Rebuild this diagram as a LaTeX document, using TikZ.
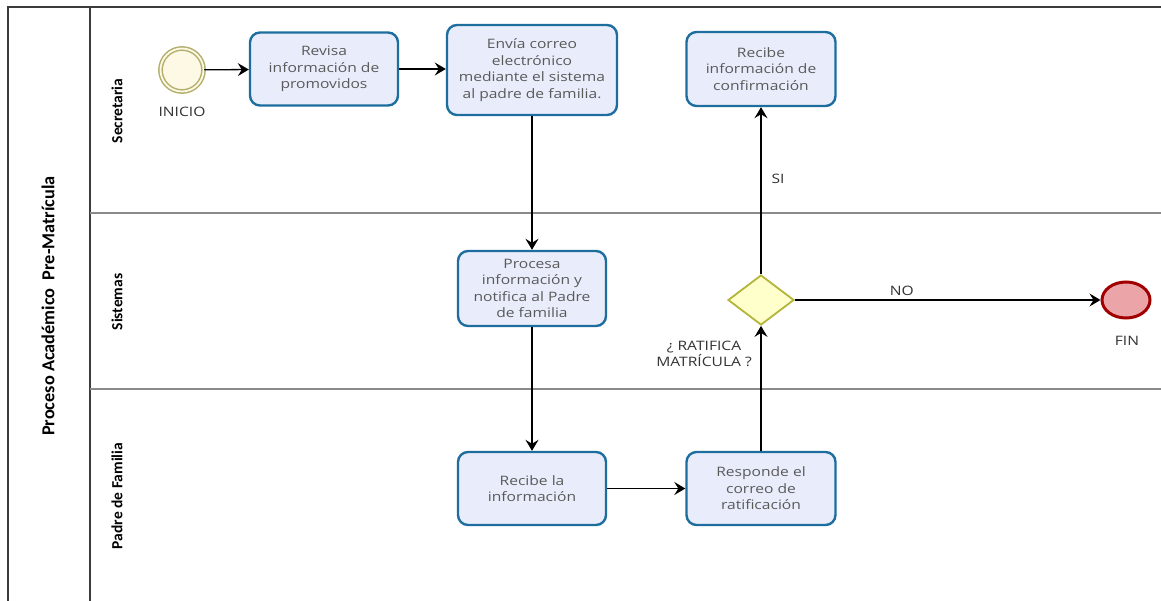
\documentclass[tikz,border=0pt]{standalone}
\usepackage{fontspec}
\usetikzlibrary{shapes.geometric,arrows.meta}
\newfontfamily\taskfont[FakeStretch=1.2]{Open Sans}
\newfontfamily\lanefont{Carlito}
\definecolor{taskfill}{HTML}{E9EDFB}
\definecolor{taskdraw}{HTML}{1D6E9E}
\definecolor{tasktext}{HTML}{5A5A5A}
\definecolor{labtext}{HTML}{333333}
\definecolor{startdraw}{HTML}{B3AF6E}
\definecolor{startfill}{HTML}{FEF9E4}
\definecolor{gwfill}{HTML}{FFFFCC}
\definecolor{gwdraw}{HTML}{B4B43A}
\definecolor{endfill}{HTML}{EBA5A9}
\definecolor{enddraw}{HTML}{A00000}
\definecolor{pooldraw}{HTML}{3C3C3C}
\definecolor{lanedraw}{HTML}{8A8A8A}
\tikzset{
  task/.style={draw=taskdraw, fill=taskfill, line width=2.4pt, rounded corners=10pt,
    align=center, text=tasktext, font=\taskfont\fontsize{13}{16.5}\selectfont, inner sep=2pt},
  lbl/.style={text=labtext, font=\taskfont\fontsize{13}{16}\selectfont, inner sep=0pt, align=center},
  lanelbl/.style={rotate=90, font=\lanefont\bfseries\fontsize{15.5}{17}\selectfont, inner sep=0pt},
  flow/.style={line width=1.3pt, -{Stealth[length=11pt,width=13pt,inset=4pt]}},
}
\begin{document}
\begin{tikzpicture}[x=1pt,y=-1pt]
\useasboundingbox (0,0) rectangle (1161,601);
\fill[white] (0,0) rectangle (1161,601);
% pool and lanes
\draw[pooldraw, line width=1.6pt] (8,601) -- (8,7) -- (1161,7);
\draw[pooldraw, line width=1.3pt] (90,7) -- (90,601);
\draw[lanedraw, line width=1.5pt] (90,213) -- (1161,213);
\draw[lanedraw, line width=1.5pt] (90,389) -- (1161,389);
\node[rotate=90, font=\lanefont\bfseries\fontsize{18.3}{20}\selectfont, inner sep=0pt] (pool) at (48,306) {Proceso Académico\ \ Pre-Matrícula};
\node[lanelbl] (l1) at (117,111) {Secretaria};
\node[lanelbl] (l2) at (117,302) {Sistemas};
\node[lanelbl] (l3) at (117,496) {Padre de Familia};
% start
\node[circle, draw=startdraw, line width=1.5pt, double=startfill, double distance=1.8pt, fill=startfill, minimum size=43pt, inner sep=0pt] (start) at (182,70) {};
\node[lbl] (startlbl) at (182,112) {INICIO};
% tasks
\node[task, minimum width=148pt, minimum height=73pt] (revisa) at (324,69) {Revisa\\información de\\promovidos};
\node[task, minimum width=170pt, minimum height=90pt] (envia) at (532,70) {Envía correo\\electrónico\\mediante el sistema\\al padre de familia.};
\node[task, minimum width=149pt, minimum height=74pt] (recconf) at (761,69) {Recibe\\información de\\confirmación};
\node[task, minimum width=148pt, minimum height=75pt] (procesa) at (532,288.5) {Procesa\\información y\\notifica al Padre\\de familia};
\node[task, minimum width=148pt, minimum height=73pt] (recinfo) at (532,488.5) {Recibe la\\información};
\node[task, minimum width=149pt, minimum height=73pt] (responde) at (761,488.5) {Responde el\\correo de\\ratificación};
% gateway
\node[diamond, draw=gwdraw, fill=gwfill, line width=1.8pt, minimum width=66pt, minimum height=50pt, inner sep=0pt] (gw) at (761,300) {};
\node[lbl] (gwlbl) at (704,354) {¿ RATIFICA\\MATRÍCULA ?};
% end
\node[ellipse, draw=enddraw, fill=endfill, line width=3pt, minimum width=48pt, minimum height=36pt, inner sep=0pt] (fin) at (1126,300) {};
\node[lbl] (finlbl) at (1127,341) {FIN};
% flows
\draw[flow] (start) -- (revisa);
\draw[flow] (revisa) -- (envia.west |- revisa);
\draw[flow] (envia) -- (procesa);
\draw[flow] (procesa) -- (recinfo);
\draw[flow] (recinfo) -- (responde);
\draw[flow] (responde) -- (gw);
\draw[flow] (gw) -- node[lbl, pos=0.57, right=10pt] (si) {SI} (recconf);
\draw[flow] (gw) -- node[lbl, above=4pt, pos=0.35] (no) {NO} (fin);
\end{tikzpicture}
\end{document}
